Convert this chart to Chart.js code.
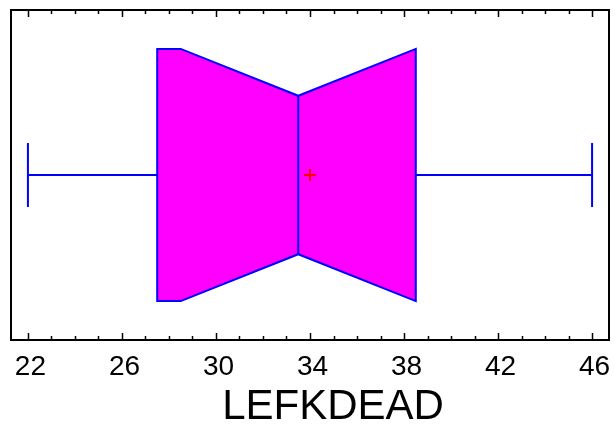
<!DOCTYPE html>
<html lang="en">
<head>
    <meta charset="UTF-8">
    <script src="https://cdn.jsdelivr.net/npm/chart.js"></script>
    <title>LEFKDEAD box plot</title>
    <style>
        html, body { margin: 0; padding: 0; background: #fff; }
        #wrap { width: 615px; height: 431px; }
    </style>
</head>
<body>
    <div id="wrap"><canvas id="boxChart" width="615" height="431"></canvas></div>

    <script>
        // data
        const categories = ['LEFKDEAD'];
        const minValues = [22];
        const q1Values = [27.5];
        const notchLowValues = [28.5];
        const medianValues = [33.5];
        const notchHighValues = [38.5];
        const q3Values = [38.5];
        const maxValues = [46];
        const meanValues = [34];
        const tickLabels = [22, 26, 30, 34, 38, 42, 46];

        // draws the notched box and whiskers through the chart scales
        const boxPlugin = {
            id: 'boxPlugin',
            beforeDatasetsDraw(chart) {
                const ctx = chart.ctx;
                const xs = chart.scales.x, ys = chart.scales.y;
                categories.forEach((c, i) => {
                    const cy = ys.getPixelForValue(0);
                    const hBox = cy - ys.getPixelForValue(0.764);
                    const hNotch = cy - ys.getPixelForValue(0.48);
                    const hCap = cy - ys.getPixelForValue(0.194);
                    const px = v => xs.getPixelForValue(v);

                    ctx.save();
                    ctx.strokeStyle = '#0000ff';
                    ctx.lineWidth = 2;

                    // whiskers
                    ctx.beginPath();
                    ctx.moveTo(px(minValues[i]), cy);
                    ctx.lineTo(px(q1Values[i]), cy);
                    ctx.moveTo(px(q3Values[i]), cy);
                    ctx.lineTo(px(maxValues[i]), cy);
                    ctx.moveTo(px(minValues[i]), cy - hCap);
                    ctx.lineTo(px(minValues[i]), cy + hCap);
                    ctx.moveTo(px(maxValues[i]), cy - hCap);
                    ctx.lineTo(px(maxValues[i]), cy + hCap);
                    ctx.stroke();

                    // notched box
                    ctx.beginPath();
                    ctx.moveTo(px(q1Values[i]), cy - hBox);
                    ctx.lineTo(px(notchLowValues[i]), cy - hBox);
                    ctx.lineTo(px(medianValues[i]), cy - hNotch);
                    ctx.lineTo(px(notchHighValues[i]), cy - hBox);
                    ctx.lineTo(px(q3Values[i]), cy - hBox);
                    ctx.lineTo(px(q3Values[i]), cy + hBox);
                    ctx.lineTo(px(notchHighValues[i]), cy + hBox);
                    ctx.lineTo(px(medianValues[i]), cy + hNotch);
                    ctx.lineTo(px(notchLowValues[i]), cy + hBox);
                    ctx.lineTo(px(q1Values[i]), cy + hBox);
                    ctx.closePath();
                    ctx.fillStyle = '#ff00ff';
                    ctx.fill();
                    ctx.stroke();

                    // median line
                    ctx.beginPath();
                    ctx.moveTo(px(medianValues[i]), cy - hNotch);
                    ctx.lineTo(px(medianValues[i]), cy + hNotch);
                    ctx.stroke();
                    ctx.restore();
                });
            },
            afterDraw(chart) {
                const ctx = chart.ctx;
                const a = chart.chartArea;
                const xs = chart.scales.x;
                ctx.save();
                ctx.strokeStyle = '#000';
                ctx.lineWidth = 2;
                ctx.strokeRect(a.left, a.top, a.right - a.left, a.bottom - a.top);

                // inward ticks top and bottom
                ctx.lineWidth = 1.5;
                ctx.beginPath();
                xs.ticks.forEach(t => {
                    const x = Math.round(xs.getPixelForValue(t.value)) + 0.5;
                    const len = tickLabels.includes(t.value) ? 7 : 4;
                    ctx.moveTo(x, a.bottom);
                    ctx.lineTo(x, a.bottom - len);
                    ctx.moveTo(x, a.top);
                    ctx.lineTo(x, a.top + len);
                });
                ctx.stroke();

                // tick labels (drawn here so they add no side padding)
                ctx.fillStyle = '#000';
                ctx.font = '28px "Liberation Sans", Arial, sans-serif';
                ctx.textAlign = 'center';
                ctx.textBaseline = 'middle';
                tickLabels.forEach(v => {
                    ctx.fillText(String(v), xs.getPixelForValue(v) + 2.5, a.bottom + 27);
                });

                // axis title
                ctx.font = '42px "Liberation Sans", Arial, sans-serif';
                ctx.fillText(categories[0], 333, 407);
                ctx.restore();
            }
        };

        const ctx = document.getElementById('boxChart').getContext('2d');
        new Chart(ctx, {
            type: 'scatter',
            data: {
                datasets: [{
                    label: 'mean',
                    data: meanValues.map(v => ({ x: v, y: 0 })),
                    pointStyle: 'cross',
                    radius: 6,
                    borderColor: '#ff0000',
                    borderWidth: 2
                }]
            },
            options: {
                responsive: false,
                animation: false,
                layout: { autoPadding: false, padding: { left: 11, right: 6, top: 10, bottom: 0 } },
                plugins: { legend: { display: false }, tooltip: { enabled: false } },
                scales: {
                    x: {
                        type: 'linear',
                        min: 21.28,
                        max: 46.72,
                        grid: { display: false, drawTicks: false },
                        border: { display: false },
                        ticks: {
                            display: false,
                            stepSize: 1,
                            includeBounds: false,
                            autoSkip: false
                        },
                        afterFit: s => { s.height = 91; }
                    },
                    y: { type: 'linear', display: false, min: -1, max: 1 }
                }
            },
            plugins: [boxPlugin]
        });
    </script>
</body>
</html>
